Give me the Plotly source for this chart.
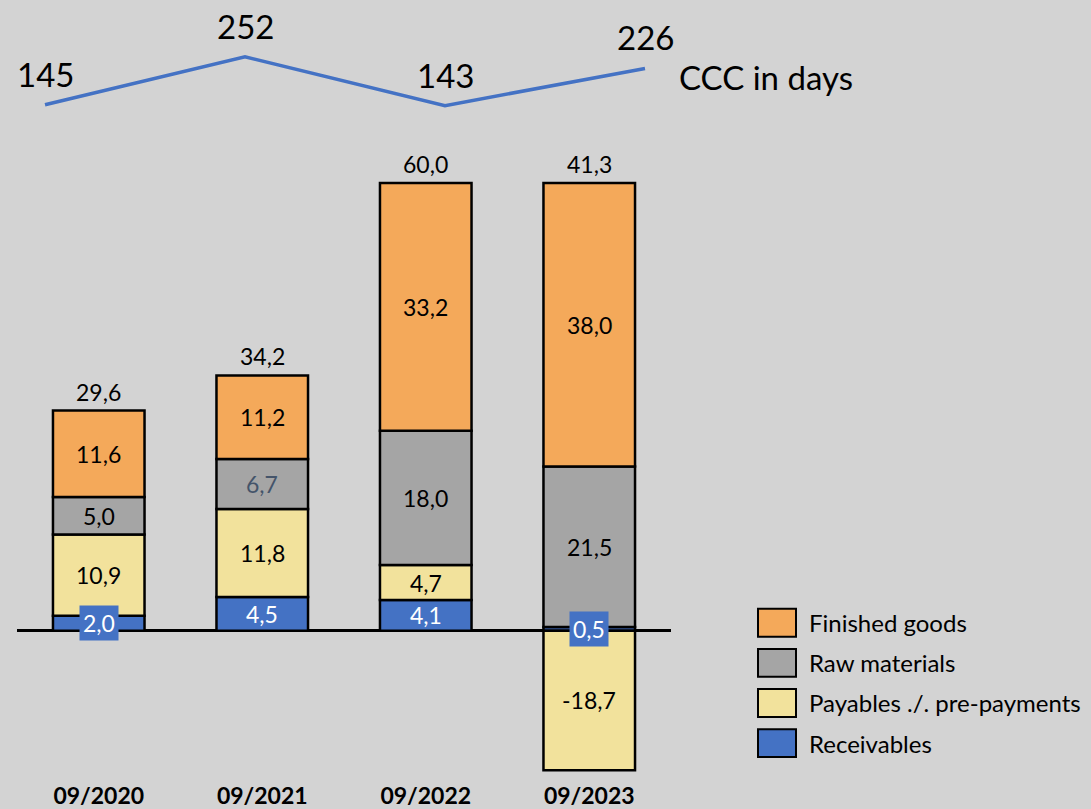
import plotly.graph_objects as go

# ---------------- data ----------------
categories = ["09/2020", "09/2021", "09/2022", "09/2023"]
receivables = [2.0, 4.5, 4.1, 0.5]
payables = [10.9, 11.8, 4.7, -18.7]
raw_materials = [5.0, 6.7, 18.0, 21.5]
finished_goods = [11.6, 11.2, 33.2, 38.0]
totals = [29.6, 34.2, 60.0, 41.3]

ccc_days = [145, 252, 143, 226]
ccc_label = "CCC in days"

series_names = ["Receivables", "Payables ./. pre-payments", "Raw materials", "Finished goods"]
series_values = [receivables, payables, raw_materials, finished_goods]

# ---------------- styling ----------------
W, H = 1091, 809
BG = "#D3D3D3"
FONT = "Lato"
colors = ["#4472C4", "#F2E29C", "#A5A5A5", "#F4A95A"]
label_colors = [
    ["white"] * 4,
    ["black"] * 4,
    ["black", "#44546A", "black", "black"],
    ["black"] * 4,
]

def fmt(v):
    return f"{v:.1f}".replace(".", ",")

def px_x(p):
    return p / W

def px_y(p):
    return 1 - p / H

fig = go.Figure()

for name, vals, col in zip(series_names, series_values, colors):
    fig.add_trace(go.Bar(
        x=categories, y=vals, name=name,
        marker=dict(color=col, line=dict(color="black", width=2.5)),
        width=0.56, showlegend=False, hoverinfo="skip",
        xaxis="x", yaxis="y",
    ))

# CCC line
fig.add_trace(go.Scatter(
    x=[0, 1, 2, 3], y=ccc_days, mode="lines",
    line=dict(color="#4472C4", width=3.5),
    xaxis="x2", yaxis="y2", showlegend=False, hoverinfo="skip",
))

annotations = []
# segment labels
for si, (vals, lc) in enumerate(zip(series_values, label_colors)):
    for ci, cat in enumerate(categories):
        v = vals[ci]
        if v >= 0:
            base = sum(series_values[k][ci] for k in range(si) if series_values[k][ci] >= 0)
        else:
            base = sum(series_values[k][ci] for k in range(si) if series_values[k][ci] < 0)
        center = base + v / 2
        ann = dict(x=cat, y=center, xref="x", yref="y", text=fmt(v),
                   showarrow=False, font=dict(family=FONT, size=23, color=lc[ci]),
                   xanchor="center", yanchor="middle")
        if si == 0 and abs(v) < 3:
            ann.update(bgcolor=colors[0], borderpad=3)
        annotations.append(ann)

# totals above stacks
for ci, cat in enumerate(categories):
    top = sum(s[ci] for s in series_values if s[ci] >= 0)
    annotations.append(dict(x=cat, y=top, xref="x", yref="y", text=fmt(totals[ci]),
                            showarrow=False, font=dict(family=FONT, size=23, color="black"),
                            xanchor="center", yanchor="middle", yshift=19))

# CCC labels
for i, d in enumerate(ccc_days):
    annotations.append(dict(x=i, y=d, xref="x2", yref="y2", text=str(d),
                            showarrow=False, font=dict(family=FONT, size=33, color="black"),
                            xanchor="center", yanchor="middle", yshift=31))
annotations.append(dict(x=px_x(677), y=px_y(77), xref="paper", yref="paper",
                        text=ccc_label, showarrow=False,
                        font=dict(family=FONT, size=33, color="black"),
                        xanchor="left", yanchor="middle"))

# legend (manual, large swatches)
shapes = []
legend_order = ["Finished goods", "Raw materials", "Payables ./. pre-payments", "Receivables"]
for r, name in enumerate(legend_order):
    col = colors[series_names.index(name)]
    top = 611 + r * 40.3
    shapes.append(dict(type="rect", xref="paper", yref="paper",
                       x0=px_x(758), x1=px_x(796), y0=px_y(top + 28), y1=px_y(top),
                       fillcolor=col, line=dict(color="black", width=2)))
    annotations.append(dict(x=px_x(807), y=px_y(top + 14), xref="paper", yref="paper",
                            text=name, showarrow=False,
                            font=dict(family=FONT, size=24, color="black"),
                            xanchor="left", yanchor="middle"))

x_dom = [px_x(17), px_x(671)]
y_range = [-19.5, 64]
ppu = 7.49
zero_px = 633
y_dom = [px_y(zero_px - y_range[0] * ppu), px_y(zero_px - y_range[1] * ppu)]

y2_range = [100, 300]
ppu2 = 0.4495
ref_px = 57  # for value 252
y2_dom = [px_y(ref_px + (252 - y2_range[0]) * ppu2), px_y(ref_px - (y2_range[1] - 252) * ppu2)]

fig.update_layout(
    width=W, height=H,
    margin=dict(l=0, r=0, t=0, b=0),
    paper_bgcolor=BG, plot_bgcolor=BG,
    barmode="relative",
    showlegend=False,
    font=dict(family=FONT, color="black"),
    xaxis=dict(domain=x_dom, range=[-0.5, 3.5], showgrid=False, showline=False,
               ticks="", tickfont=dict(family=FONT, size=23, color="black", weight="bold"),
               ticklabelstandoff=4, fixedrange=True),
    yaxis=dict(domain=y_dom, range=y_range, showgrid=False, showticklabels=False,
               zeroline=True, zerolinecolor="black", zerolinewidth=2.5, fixedrange=True),
    xaxis2=dict(domain=x_dom, range=[(17 - 45) / 200, (671 - 45) / 200], visible=False,
                anchor="y2"),
    yaxis2=dict(domain=y2_dom, range=y2_range, visible=False, anchor="x2"),
    annotations=annotations,
    shapes=shapes,
)

fig.write_html("out.html")
